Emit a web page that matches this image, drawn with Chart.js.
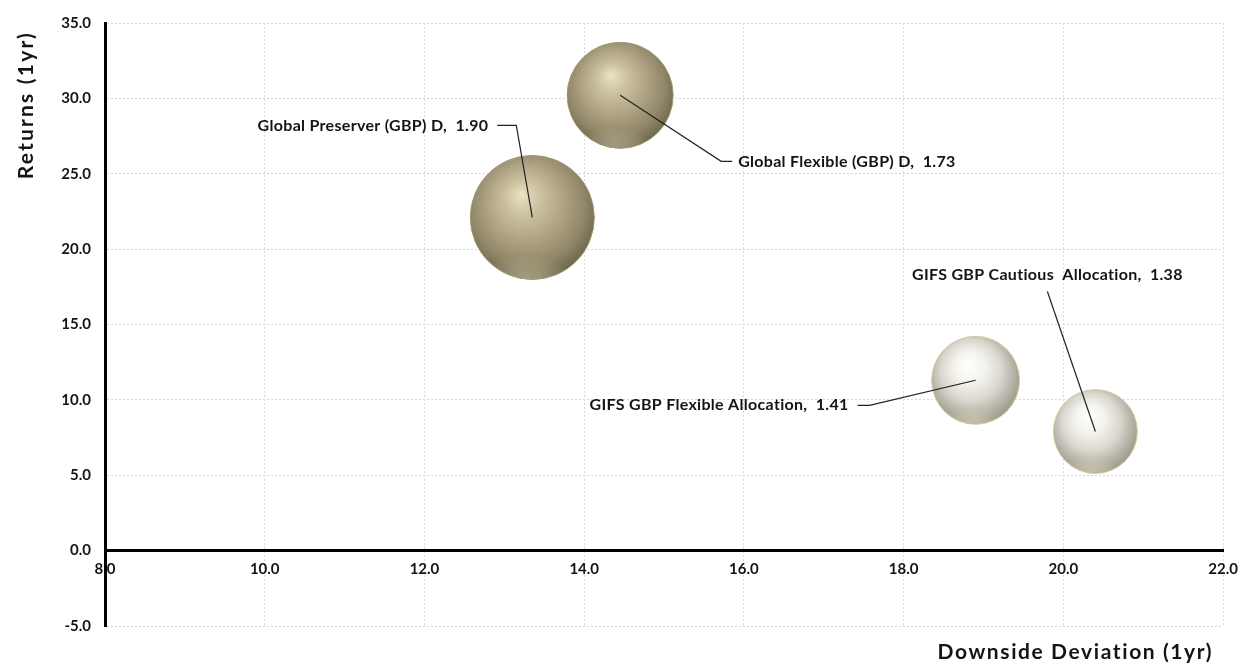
<!DOCTYPE html>
<html>
<head>
<meta charset="utf-8">
<script src="https://cdn.jsdelivr.net/npm/chart.js@4.4.1/dist/chart.umd.min.js"></script>
<style>
  html, body { margin: 0; padding: 0; background: #fff; }
  .wrap { width: 1248px; height: 665px; position: relative; }
</style>
</head>
<body>
<div class="wrap"><canvas id="riskChart"></canvas></div>
<script>
// ---- DATA ----
const funds = ['Global Preserver (GBP) D', 'Global Flexible (GBP) D', 'GIFS GBP Flexible Allocation', 'GIFS GBP Cautious  Allocation'];
const labelValues = ['1.90', '1.73', '1.41', '1.38'];
const downside = [13.35, 14.45, 18.9, 20.4];   // x: downside deviation (1yr)
const returns = [22.1, 30.2, 11.3, 7.9];       // y: returns (1yr)
const bubbleSize = [6.2, 5.3, 4.4, 4.2];       // third dimension
const xTicks = [8, 10, 12, 14, 16, 18, 20, 22];
const yTicks = [-5, 0, 5, 10, 15, 20, 25, 30, 35];

// ---- STYLE ----
const ink = '#141414';
const gridCol = '#d6d6d6';
const fontFam = "Lato, 'Open Sans', sans-serif";
const tones = ['gold', 'gold', 'pearl', 'pearl'];
const palettes = {
  gold:  [[0, '#ebe3c3'], [0.25, '#cbc1a0'], [0.55, '#aca283'], [0.8, '#918768'], [1, '#6c644c']],
  pearl: [[0, '#ffffff'], [0.3, '#f4f3ee'], [0.6, '#d9d7ce'], [0.85, '#b0aea2'], [1, '#989684']]
};
const shineCol = { gold: 'rgba(222,214,182,', pearl: 'rgba(238,232,196,' };
const rims = { gold: '#a09574', pearl: '#d6cf9e' };

function sphere(context) {
  const chart = context.chart;
  const raw = context.raw;
  if (!raw || !chart.chartArea) return '#bbb';
  const px = chart.scales.x.getPixelForValue(raw.x);
  const py = chart.scales.y.getPixelForValue(raw.y);
  const r = raw.r;
  const g = chart.ctx.createRadialGradient(px - 0.18 * r, py - 0.38 * r, 0, px - 0.05 * r, py - 0.12 * r, 1.15 * r);
  palettes[tones[context.dataIndex]].forEach(s => g.addColorStop(s[0], s[1]));
  return g;
}

// soft reflected light on the lower rim of every bubble
const sphereShine = {
  id: 'sphereShine',
  afterDatasetsDraw(chart) {
    const ctx = chart.ctx;
    const meta = chart.getDatasetMeta(0);
    meta.data.forEach((pt, i) => {
      const r = pt.options.radius;
      const c = shineCol[tones[i]];
      ctx.save();
      ctx.beginPath();
      ctx.arc(pt.x, pt.y, r - 0.5, 0, Math.PI * 2);
      ctx.clip();
      ctx.translate(pt.x - 0.1 * r, pt.y + 1.1 * r);
      ctx.scale(1.6, 1);
      const g = ctx.createRadialGradient(0, 0, 0, 0, 0, 0.5 * r);
      g.addColorStop(0, c + '0.6)');
      g.addColorStop(1, c + '0)');
      ctx.fillStyle = g;
      ctx.fillRect(-r, -r, 2 * r, 2 * r);
      ctx.restore();
    });
  }
};

// leader-line offsets (px from bubble centre): elbow, line end, text anchor
const leaders = [
  { elbow: [-16, -92], end: [-35, -92], text: [-44, -92], align: 'right' },
  { elbow: [101, 66], end: [112, 66], text: [118, 66], align: 'left' },
  { elbow: [-106, 25], end: [-118, 25], text: [-127, 25], align: 'right' },
  { elbow: [-48, -140], end: [-48, -140], text: [-48, -157], align: 'center' }
];

const leaderLabels = {
  id: 'leaderLabels',
  afterDatasetsDraw(chart) {
    const ctx = chart.ctx;
    const meta = chart.getDatasetMeta(0);
    ctx.save();
    meta.data.forEach((pt, i) => {
      const L = leaders[i];
      ctx.strokeStyle = '#222';
      ctx.lineWidth = 1.2;
      ctx.beginPath();
      ctx.moveTo(pt.x, pt.y);
      ctx.lineTo(pt.x + L.elbow[0], pt.y + L.elbow[1]);
      ctx.lineTo(pt.x + L.end[0], pt.y + L.end[1]);
      ctx.stroke();
      ctx.fillStyle = ink;
      ctx.font = 'bold 16px ' + fontFam;
      ctx.letterSpacing = '0.3px';
      ctx.textAlign = L.align;
      ctx.textBaseline = 'middle';
      ctx.fillText(funds[i] + ',  ' + labelValues[i], pt.x + L.text[0], pt.y + L.text[1]);
    });
    ctx.restore();
  }
};

const axisTitles = {
  id: 'axisTitles',
  afterDraw(chart) {
    const { ctx, chartArea } = chart;
    ctx.save();
    ctx.fillStyle = ink;
    ctx.font = 'bold 21px ' + fontFam;
    ctx.letterSpacing = '1.6px';
    ctx.textBaseline = 'middle';
    ctx.textAlign = 'right';
    ctx.fillText('Downside Deviation (1yr)', chartArea.right - 10, chartArea.bottom + 26);
    ctx.translate(26, chartArea.top + 8);
    ctx.rotate(-Math.PI / 2);
    ctx.letterSpacing = '2.2px';
    ctx.fillText('Returns (1yr)', 0, 0);
    ctx.restore();
  }
};

const whiteBg = {
  id: 'whiteBg',
  beforeDraw(chart) {
    const ctx = chart.ctx;
    ctx.save();
    ctx.fillStyle = '#fff';
    ctx.fillRect(0, 0, chart.width, chart.height);
    ctx.restore();
  }
};

// ---- CHART ----
new Chart(document.getElementById('riskChart'), {
  type: 'bubble',
  data: {
    datasets: [{
      label: 'Funds',
      data: funds.map((f, i) => ({ x: downside[i], y: returns[i], r: bubbleSize[i] * 10 })),
      backgroundColor: sphere,
      borderColor: ctx => rims[tones[ctx.dataIndex]],
      borderWidth: 1,
    }]
  },
  options: {
    responsive: true,
    maintainAspectRatio: false,
    animation: false,
    events: [],
    layout: { autoPadding: false, padding: { top: 19, right: 24, bottom: 39, left: 0 } },
    plugins: {
      legend: { display: false },
      tooltip: { enabled: false },
    },
    scales: {
      x: {
        type: 'linear',
        min: 8,
        max: 22,
        position: { y: 0 },
        afterBuildTicks: s => { s.ticks = xTicks.map(v => ({ value: v })); },
        grid: { color: gridCol, lineWidth: 1, drawTicks: false },
        border: { color: '#000', width: 3, dash: [2, 2] },
        ticks: {
          padding: 10,
          color: ink,
          font: { family: fontFam, size: 15, weight: 'bold' },
          callback: v => v.toFixed(1),
        },
      },
      y: {
        type: 'linear',
        min: -5,
        max: 35,
        position: 'left',
        afterBuildTicks: s => { s.ticks = yTicks.map(v => ({ value: v })); },
        afterFit: s => { s.width = 105; },
        grid: { color: gridCol, lineWidth: 1, drawTicks: false },
        border: { color: '#000', width: 3, dash: [2, 2] },
        ticks: {
          padding: 14,
          color: ink,
          font: { family: fontFam, size: 15, weight: 'bold' },
          callback: v => v.toFixed(1),
        },
      }
    }
  },
  plugins: [whiteBg, sphereShine, leaderLabels, axisTitles]
});
</script>
</body>
</html>
